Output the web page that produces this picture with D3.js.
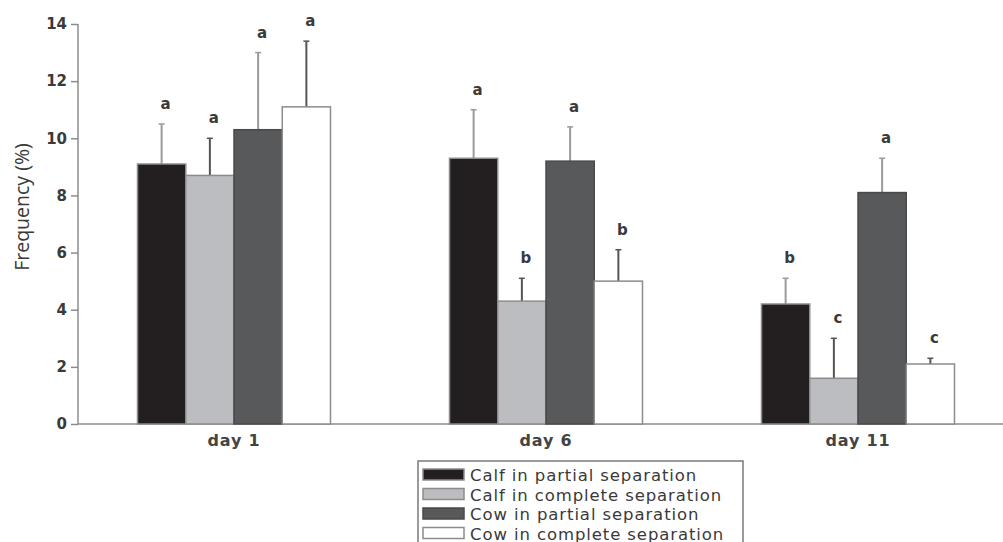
<!DOCTYPE html>
<html>
<head>
<meta charset="utf-8">
<script src="https://cdn.jsdelivr.net/npm/d3@7"></script>
<style>
body { margin: 0; background: #fff; }
svg { display: block; }
</style>
</head>
<body>
<svg id="chart" width="1003" height="542"></svg>
<script>
// data
var days = ["day 1", "day 6", "day 11"];
var seriesNames = ["Calf in partial separation", "Calf in complete separation",
                   "Cow in partial separation", "Cow in complete separation"];
var means = [
    [9.1, 8.7, 10.3, 11.1],
    [9.3, 4.3, 9.2, 5.0],
    [4.2, 1.6, 8.1, 2.1]
];
var errTops = [
    [10.5, 10.0, 13.0, 13.4],
    [11.0, 5.1, 10.4, 6.1],
    [5.1, 3.0, 9.3, 2.3]
];
var letters = [
    ["a", "a", "a", "a"],
    ["a", "b", "a", "b"],
    ["b", "c", "a", "c"]
];
var yTicks = [0, 2, 4, 6, 8, 10, 12, 14];

var fills = ["#231f20", "#bcbdc0", "#58595b", "#ffffff"];
var errColors = ["#9a9a9a", "#555555", "#9a9a9a", "#555555"];
var axisColor = "#8c8c8c";
var textColor = "#3a3a3a";

var svg = d3.select("#chart");
var font = "Verdana, 'DejaVu Sans', sans-serif";

var x0 = d3.scaleBand().domain(days).range([78, 1014]).paddingInner(0).paddingOuter(0);
var groupW = 193;
var x1 = d3.scaleBand().domain(d3.range(4)).range([0, groupW]);
var y = d3.scaleLinear().domain([0, 14]).range([424, 24]);

// y axis
var yAxis = svg.append("g")
    .attr("transform", "translate(78,0)")
    .call(d3.axisLeft(y).tickValues(yTicks).tickSize(7).tickPadding(4));
yAxis.select(".domain").attr("stroke", axisColor).attr("stroke-width", 1.5)
    .attr("d", "M0," + y(14) + "V" + y(0));
yAxis.selectAll(".tick line").attr("stroke", axisColor).attr("stroke-width", 1.5);
yAxis.selectAll(".tick text")
    .attr("fill", textColor)
    .style("font-family", font)
    .style("font-size", "15px")
    .style("font-weight", "bold");

// x axis line + labels
svg.append("line")
    .attr("x1", 78).attr("x2", 1003)
    .attr("y1", y(0)).attr("y2", y(0))
    .attr("stroke", axisColor).attr("stroke-width", 1.5);

svg.append("g").selectAll("text")
    .data(days)
    .enter().append("text")
    .attr("x", function(d) { return x0(d) + x0.bandwidth() / 2; })
    .attr("y", 446)
    .attr("text-anchor", "middle")
    .attr("fill", "#444")
    .style("font-family", font)
    .style("font-size", "16px")
    .style("font-weight", "bold")
    .style("letter-spacing", "0.8px")
    .text(function(d) { return d; });

// y label
svg.append("text")
    .attr("transform", "translate(29,207) rotate(-90)")
    .attr("text-anchor", "middle")
    .attr("fill", textColor)
    .style("font-family", "'Open Sans', sans-serif")
    .style("font-size", "19.5px")
    .text("Frequency (%)");

// bars
var groups = svg.append("g").selectAll("g")
    .data(days)
    .enter().append("g")
    .attr("transform", function(d) {
        return "translate(" + (x0(d) + (x0.bandwidth() - groupW) / 2) + ",0)";
    });

groups.each(function(day, gi) {
    var g = d3.select(this);
    var rows = d3.range(4).map(function(k) {
        return { k: k, v: means[gi][k], e: errTops[gi][k], l: letters[gi][k] };
    });

    // error bars (upper only)
    g.selectAll("line.err")
        .data(rows)
        .enter().append("line")
        .attr("class", "err")
        .attr("x1", function(d) { return x1(d.k) + x1.bandwidth() / 2; })
        .attr("x2", function(d) { return x1(d.k) + x1.bandwidth() / 2; })
        .attr("y1", function(d) { return y(d.v); })
        .attr("y2", function(d) { return y(d.e); })
        .attr("stroke", function(d) { return errColors[d.k]; })
        .attr("stroke-width", 2);
    g.selectAll("line.cap")
        .data(rows)
        .enter().append("line")
        .attr("class", "cap")
        .attr("x1", function(d) { return x1(d.k) + x1.bandwidth() / 2 - 3; })
        .attr("x2", function(d) { return x1(d.k) + x1.bandwidth() / 2 + 3; })
        .attr("y1", function(d) { return y(d.e); })
        .attr("y2", function(d) { return y(d.e); })
        .attr("stroke", function(d) { return errColors[d.k]; })
        .attr("stroke-width", 1.5);

    g.selectAll("rect")
        .data(rows)
        .enter().append("rect")
        .attr("x", function(d) { return x1(d.k); })
        .attr("y", function(d) { return y(d.v); })
        .attr("width", x1.bandwidth())
        .attr("height", function(d) { return y(0) - y(d.v); })
        .attr("fill", function(d) { return fills[d.k]; })
        .attr("stroke", function(d) { return d.k == 2 ? "#4a4a4a" : "#8c8c8c"; })
        .attr("stroke-width", 1.5);

    g.selectAll("text")
        .data(rows)
        .enter().append("text")
        .attr("x", function(d) { return x1(d.k) + x1.bandwidth() / 2 + 4; })
        .attr("y", function(d) { return y(d.e) - 15; })
        .attr("text-anchor", "middle")
        .attr("fill", textColor)
        .style("font-family", font)
        .style("font-size", "15px")
        .style("font-weight", "bold")
        .text(function(d) { return d.l; });
});

// legend
var leg = svg.append("g").attr("transform", "translate(418,461)");
leg.append("rect")
    .attr("x", 0).attr("y", 0)
    .attr("width", 325).attr("height", 100)
    .attr("fill", "#fff")
    .attr("stroke", "#7a7a7a")
    .attr("stroke-width", 1.5);
var items = leg.selectAll("g.item")
    .data(seriesNames)
    .enter().append("g")
    .attr("class", "item")
    .attr("transform", function(d, i) { return "translate(0," + (i * 19.5) + ")"; });
items.append("rect")
    .attr("x", 5).attr("y", 8)
    .attr("width", 41).attr("height", 11)
    .attr("fill", function(d, i) { return fills[i]; })
    .attr("stroke", function(d, i) { return i == 2 ? "#4a4a4a" : "#8c8c8c"; })
    .attr("stroke-width", 1.5);
items.append("text")
    .attr("x", 52).attr("y", 20)
    .attr("fill", textColor)
    .style("font-family", font)
    .style("font-size", "16.5px")
    .style("letter-spacing", "0.9px")
    .text(function(d) { return d; });
</script>
</body>
</html>
